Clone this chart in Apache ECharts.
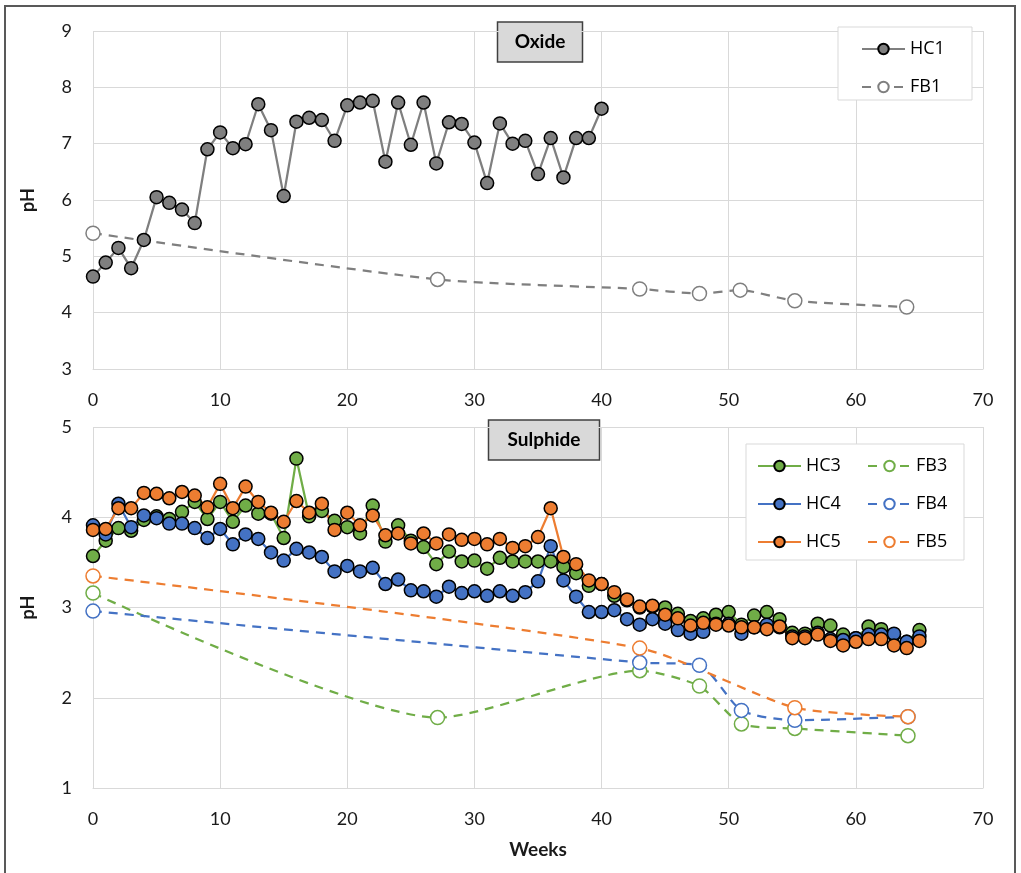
<!DOCTYPE html>
<html>
<head>
<meta charset="utf-8">
<script src="https://cdn.jsdelivr.net/npm/echarts@6/dist/echarts.min.js"></script>
<style>
html,body{margin:0;padding:0;background:#fff;}
#chart{width:1021px;height:873px;}
</style>
</head>
<body>
<div id="chart"></div>
<script>
// ---------- Data ----------
var xTicks = [0, 10, 20, 30, 40, 50, 60, 70];

// Oxide panel
var hc1Weeks = [0,1,2,3,4,5,6,7,8,9,10,11,12,13,14,15,16,17,18,19,20,21,22,23,24,25,26,27,28,29,30,31,32,33,34,35,36,37,38,39,40];
var hc1 = [4.64,4.89,5.15,4.79,5.29,6.05,5.95,5.83,5.59,6.90,7.20,6.92,6.99,7.70,7.24,6.07,7.39,7.46,7.42,7.05,7.68,7.73,7.76,6.68,7.73,6.98,7.73,6.65,7.38,7.35,7.02,6.30,7.36,7.00,7.05,6.46,7.10,6.40,7.10,7.10,7.62];
var fb1Weeks = [0, 27.1, 43.0, 47.7, 50.9, 55.2, 64.0];
var fb1 = [5.41, 4.59, 4.42, 4.34, 4.40, 4.21, 4.10];

// Sulphide panel
var hcWeeks = [0,1,2,3,4,5,6,7,8,9,10,11,12,13,14,15,16,17,18,19,20,21,22,23,24,25,26,27,28,29,30,31,32,33,34,35,36,37,38,39,40,41,42,43,44,45,46,47,48,49,50,51,52,53,54,55,56,57,58,59,60,61,62,63,64,65];
var hc3 = [3.57,3.74,3.88,3.85,3.97,4.01,3.98,4.06,4.17,3.98,4.17,3.95,4.13,4.04,4.04,3.77,4.65,4.01,4.07,3.96,3.89,3.82,4.13,3.73,3.91,3.74,3.67,3.48,3.62,3.51,3.52,3.43,3.55,3.51,3.51,3.51,3.51,3.45,3.38,3.24,3.26,3.13,3.08,3.00,3.01,3.00,2.93,2.85,2.88,2.92,2.95,2.81,2.91,2.95,2.87,2.72,2.71,2.82,2.80,2.70,2.66,2.79,2.76,2.70,2.62,2.75];
var hc4 = [3.91,3.81,4.15,3.89,4.02,3.99,3.93,3.93,3.88,3.77,3.87,3.70,3.81,3.76,3.61,3.52,3.65,3.61,3.56,3.40,3.46,3.40,3.44,3.26,3.31,3.19,3.18,3.12,3.23,3.16,3.18,3.13,3.18,3.13,3.17,3.29,3.68,3.30,3.12,2.95,2.95,2.97,2.87,2.81,2.87,2.82,2.75,2.71,2.73,2.82,2.82,2.71,2.78,2.81,2.78,2.68,2.68,2.72,2.65,2.64,2.66,2.70,2.70,2.71,2.62,2.68];
var hc5 = [3.86,3.87,4.10,4.10,4.27,4.26,4.21,4.28,4.24,4.11,4.37,4.10,4.34,4.17,4.05,3.95,4.18,4.05,4.15,3.86,4.05,3.91,4.02,3.80,3.82,3.71,3.82,3.71,3.81,3.75,3.76,3.70,3.76,3.66,3.68,3.78,4.10,3.56,3.48,3.30,3.26,3.17,3.09,3.01,3.02,2.92,2.88,2.80,2.83,2.81,2.80,2.78,2.78,2.76,2.79,2.66,2.66,2.70,2.63,2.58,2.62,2.65,2.65,2.58,2.55,2.63];
var fb3Weeks = [0, 27.1, 43.0, 47.7, 51.0, 55.2, 64.1];
var fb3 = [3.16, 1.78, 2.30, 2.13, 1.71, 1.66, 1.58];
var fb4Weeks = [0, 43.0, 47.7, 51.0, 55.2, 64.1];
var fb4 = [2.96, 2.39, 2.36, 1.86, 1.75, 1.79];
var fb5Weeks = [0, 43.0, 55.2, 64.1];
var fb5 = [3.35, 2.55, 1.89, 1.79];

// ---------- Helpers ----------
function pairs(xs, ys){ return xs.map(function(x,i){ return [x, ys[i]]; }); }
var FONT = 'Lato';
var TXT = '#1a1a1a';
var GRIDC = '#d9d9d9';

function hcSeries(name, xs, ys, color, idx){
  return {
    name: name, type: 'line', xAxisIndex: idx, yAxisIndex: idx,
    data: pairs(xs, ys), symbol: 'circle', symbolSize: 13,
    lineStyle: {color: color, width: 2.25},
    itemStyle: {color: color, borderColor: '#000', borderWidth: 1.5},
    emphasis: {disabled: true}, animation: false
  };
}
function fbSeries(name, xs, ys, color, idx){
  return {
    name: name, type: 'line', xAxisIndex: idx, yAxisIndex: idx,
    data: pairs(xs, ys), symbol: 'circle', symbolSize: 14, smooth: 0.22,
    lineStyle: {color: color, width: 2.25, type: [9, 7]},
    itemStyle: {color: '#fff', borderColor: color, borderWidth: 1.5},
    emphasis: {disabled: true}, animation: false
  };
}
function xAxis(idx, showName){
  return {
    type: 'value', gridIndex: idx, min: 0, max: 70, interval: 10,
    axisLine: {show: true, onZero: false, lineStyle: {color: GRIDC, width: 1}},
    axisTick: {show: false},
    splitLine: {show: true, lineStyle: {color: GRIDC, width: 1}},
    axisLabel: {fontFamily: FONT, fontSize: 18, color: TXT, margin: 22,
      formatter: function(v){ return xTicks.indexOf(v) >= 0 ? String(v) : ''; }},
    name: showName ? 'Weeks' : '', nameLocation: 'middle', nameGap: 52,
    nameTextStyle: {fontFamily: FONT, fontSize: 19, fontWeight: 'bold', color: TXT}
  };
}
function yAxis(idx, min, max){
  return {
    type: 'value', gridIndex: idx, min: min, max: max, interval: 1,
    axisLine: {show: false}, axisTick: {show: false},
    splitLine: {show: true, lineStyle: {color: GRIDC, width: 1}},
    axisLabel: {fontFamily: FONT, fontSize: 18, color: TXT, margin: 21},
    name: 'pH', nameLocation: 'middle', nameGap: 56, nameRotate: 90,
    nameTextStyle: {fontFamily: FONT, fontSize: 18, fontWeight: 'bold', color: TXT}
  };
}
function titleBox(cx, cy, w, h, label){
  return {
    type: 'group', z: 100,
    children: [
      {type: 'rect', shape: {x: cx - w/2, y: cy - h/2, width: w, height: h},
       style: {fill: '#d9d9d9', stroke: '#404040', lineWidth: 1.5}},
      {type: 'text', x: cx, y: cy,
       style: {text: label, fill: '#000', font: 'bold 19px ' + FONT, textAlign: 'center', textVerticalAlign: 'middle'}}
    ]
  };
}
var legendText = {fontFamily: 'Open Sans', fontSize: 18, color: '#000'};

var chart = echarts.init(document.getElementById('chart'), null, {renderer: 'canvas'});
chart.setOption({
  backgroundColor: '#fff',
  animation: false,
  grid: [
    {left: 93, top: 31, width: 890, height: 338},
    {left: 93, top: 427, width: 890, height: 361}
  ],
  xAxis: [xAxis(0, false), xAxis(1, true)],
  yAxis: [yAxis(0, 3, 9), yAxis(1, 1, 5)],
  legend: [
    {data: ['HC1', 'FB1'], orient: 'vertical', left: 856, top: 35, itemWidth: 43, itemHeight: 13, itemGap: 20,
     textStyle: legendText, selectedMode: false, z: 110},
    {data: ['HC3', 'HC4', 'HC5'], orient: 'vertical', left: 752, top: 452, itemWidth: 43, itemHeight: 13, itemGap: 20,
     textStyle: legendText, selectedMode: false, z: 110},
    {data: ['FB3', 'FB4', 'FB5'], orient: 'vertical', left: 862, top: 452, itemWidth: 43, itemHeight: 13, itemGap: 20,
     textStyle: legendText, selectedMode: false, z: 110}
  ],
  graphic: [
    {type: 'rect', shape: {x: 5, y: 6, width: 1010, height: 900}, style: {fill: 'none', stroke: '#595959', lineWidth: 2}, z: 100},
    {type: 'rect', shape: {x: 838, y: 27, width: 134, height: 73}, style: {fill: '#fff', stroke: '#d9d9d9', lineWidth: 1}, z: 99},
    {type: 'rect', shape: {x: 746, y: 444, width: 218, height: 116}, style: {fill: '#fff', stroke: '#d9d9d9', lineWidth: 1}, z: 99},
    titleBox(540, 42, 85, 40, 'Oxide'),
    titleBox(544, 440, 111, 40, 'Sulphide')
  ],
  series: [
    fbSeries('FB1', fb1Weeks, fb1, '#7f7f7f', 0),
    hcSeries('HC1', hc1Weeks, hc1, '#7f7f7f', 0),
    hcSeries('HC3', hcWeeks, hc3, '#70ad47', 1),
    hcSeries('HC4', hcWeeks, hc4, '#4472c4', 1),
    hcSeries('HC5', hcWeeks, hc5, '#ed7d31', 1),
    fbSeries('FB3', fb3Weeks, fb3, '#70ad47', 1),
    fbSeries('FB4', fb4Weeks, fb4, '#4472c4', 1),
    fbSeries('FB5', fb5Weeks, fb5, '#ed7d31', 1)
  ]
});
</script>
</body>
</html>
